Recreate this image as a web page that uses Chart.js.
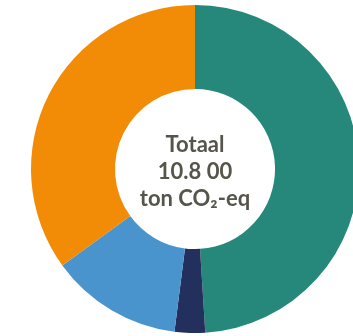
<!DOCTYPE html>
<html>
<head>
<meta charset="utf-8">
<script src="https://cdn.jsdelivr.net/npm/chart.js@4/dist/chart.umd.min.js"></script>
<style>
  html, body { margin: 0; padding: 0; background: #fff; overflow: hidden; }
  #wrap { position: relative; width: 359px; height: 336px; }
</style>
</head>
<body>
<div id="wrap"><canvas id="chart"></canvas></div>
<script>
// uitstoot per bron (aandeel in %)
const categories = ['Bron A', 'Bron B', 'Bron C', 'Bron D'];
const shares = [49, 3, 13, 35];
const colors = ['#26887a', '#23305e', '#4a94ce', '#f28b05'];
const centerLines = ['Totaal', '10.8 00', 'ton CO\u2082-eq'];

// tekst in het midden van de donut
const centerText = {
  id: 'centerText',
  afterDraw(chart) {
    const meta = chart.getDatasetMeta(0);
    if (!meta.data.length) return;
    const { x, y } = meta.data[0];
    const ctx = chart.ctx;
    ctx.save();
    ctx.fillStyle = '#55554b';
    ctx.font = 'bold 22px Lato, "DejaVu Sans", sans-serif';
    ctx.textAlign = 'center';
    ctx.textBaseline = 'alphabetic';
    const gap = 27;
    centerLines.forEach((line, i) => {
      ctx.fillText(line, x, y + 9.5 + (i - 1) * gap);
    });
    ctx.restore();
  }
};

new Chart(document.getElementById('chart'), {
  type: 'doughnut',
  data: {
    labels: categories,
    datasets: [{
      data: shares,
      backgroundColor: colors,
      borderWidth: 0
    }]
  },
  options: {
    responsive: true,
    maintainAspectRatio: false,
    animation: false,
    cutout: '48.8%',
    layout: { padding: { left: 31, right: 0, top: 5, bottom: 3 } },
    plugins: {
      legend: { display: false },
      tooltip: { enabled: false }
    }
  },
  plugins: [centerText]
});
</script>
</body>
</html>
